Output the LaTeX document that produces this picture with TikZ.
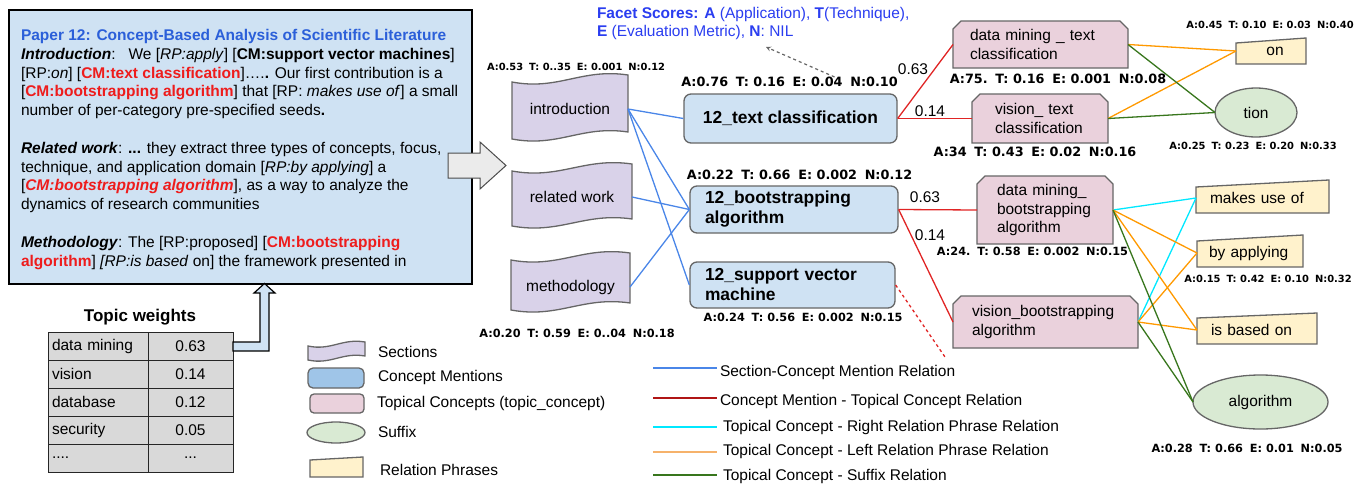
\documentclass[tikz,border=0pt]{standalone}
\usepackage{fontspec}
\setmainfont{Liberation Sans}
\newfontfamily\lblfont{DejaVu Sans}
\usetikzlibrary{shapes.geometric}
\definecolor{paperfill}{HTML}{CFE2F3}
\definecolor{cmfill}{HTML}{CFE2F3}
\definecolor{cmleg}{HTML}{9FC5E8}
\definecolor{secfill}{HTML}{D9D2E9}
\definecolor{tcfill}{HTML}{EAD1DC}
\definecolor{sufill}{HTML}{D9EAD3}
\definecolor{rpfill}{HTML}{FFF2CC}
\definecolor{cellfill}{HTML}{D9D9D9}
\definecolor{edgeblue}{HTML}{4A86E8}
\definecolor{edgered}{HTML}{E02424}
\definecolor{legred}{HTML}{B01515}
\definecolor{edgecyan}{HTML}{00E8FF}
\definecolor{edgeorange}{HTML}{FF9900}
\definecolor{legorange}{HTML}{F6B26B}
\definecolor{edgegreen}{HTML}{38761D}
\definecolor{shapeborder}{HTML}{666666}
\definecolor{titleblue}{HTML}{2B5FD9}
\definecolor{facetblue}{HTML}{2A3DF0}
\definecolor{pred}{HTML}{EE1C1C}
\definecolor{arrowfill}{HTML}{EBEBEB}
\newcommand\lgp{\hspace{0.6em}}
% wavy section shape: x0 x1 top bottom amplitude
\newcommand\secshape[5]{%
  \draw[secdraw] (#1,#3+#5) .. controls ({#1+0.4*(#2-#1)},{#3+2.25*#5}) and ({#1+0.6*(#2-#1)},{#3-#5}) .. (#2,#3)
    -- (#2,#4) .. controls ({#1+0.6*(#2-#1)},{#4-#5}) and ({#1+0.4*(#2-#1)},{#4+2.25*#5}) .. (#1,#4+#5) -- cycle;}
% topical concept shape: x0 y0 x1 y1
\newcommand\tcshape[4]{%
  \draw[tcdraw] (#1,#4) -- (#1,#2+8) -- (#1+8,#2) -- (#3-8,#2) -- (#3,#2+8) -- (#3,#4) -- cycle;}
% relation phrase shape: x0 yleft x1 yright ybottom
\newcommand\rpshape[5]{%
  \draw[rpdraw] (#1,#5) -- (#1,#2) -- (#3,#4) -- (#3,#5) -- cycle;}
\begin{document}
\begin{tikzpicture}[x=1pt,y=-1pt,
  txt/.style={font=\fontsize{15.5}{18.8}\selectfont, inner sep=0pt, outer sep=0pt},
  lblL/.style={font=\lblfont\bfseries\fontsize{12.8}{15}\selectfont, inner sep=0pt},
  lblM/.style={font=\lblfont\bfseries\fontsize{11.3}{14}\selectfont, inner sep=0pt},
  lblS/.style={font=\lblfont\bfseries\fontsize{9.9}{12}\selectfont, inner sep=0pt},
  cmnode/.style={draw=shapeborder, line width=1.3pt, fill=cmfill, rounded corners=7pt, inner sep=0pt, font=\bfseries\fontsize{17.4}{20}\selectfont},
  secdraw/.style={draw=shapeborder, line width=1.3pt, fill=secfill},
  tcdraw/.style={draw=shapeborder, line width=1.3pt, fill=tcfill},
  rpdraw/.style={draw=shapeborder, line width=1.3pt, fill=rpfill},
  tcnode/.style={txt, align=left},
  suffix/.style={ellipse, draw=shapeborder, line width=1.3pt, fill=sufill, txt},
  cell/.style={draw=black!85, line width=1pt, fill=cellfill, minimum height=28pt, txt},
  cellA/.style={cell, text width=92pt, align=left, minimum width=100pt},
  cellB/.style={cell, minimum width=85pt},
  eblue/.style={edgeblue, line width=1.3pt},
  ered/.style={edgered, line width=1.3pt},
  ecyan/.style={edgecyan, line width=1.3pt},
  eorange/.style={edgeorange, line width=1.3pt},
  egreen/.style={edgegreen, line width=1.3pt},
]
\useasboundingbox (0,0) rectangle (1368,485);

% ---------------- paper box ----------------
\node[draw=black, line width=1.8pt, fill=paperfill, minimum width=463pt, minimum height=274pt, inner sep=0pt] (paper) at (240.5,147) {};
\node[txt, anchor=north west, align=left] (ptext) at (21,29.2) {%
{\color{titleblue}\bfseries Paper 12: Concept-Based Analysis of Scientific Literature}\\
\textbf{\textit{Introduction}}:\ \ \ We [\textit{RP:apply}] [\textbf{CM:support vector machines}]\\
{[}RP:\textit{on}] [\textcolor{pred}{\textbf{CM:text classification}}]….\textbf{.} Our first contribution is a\\
{[}\textcolor{pred}{\textbf{CM:bootstrapping algorithm}}] that [RP: \textit{makes use of}] a small\\
number of per-category pre-specified seeds\textbf{.}\\[18.8pt]
\textbf{\textit{Related work}}: \textbf{...} they extract three types of concepts, focus,\\
technique, and application domain [\textit{RP:by applying}] a\\
{[}\textcolor{pred}{\textbf{\textit{CM:bootstrapping algorithm}}}], as a way to analyze the\\
dynamics of research communities\\[18.8pt]
\textbf{\textit{Methodology}}: The [RP:proposed] [\textcolor{pred}{\textbf{CM:bootstrapping}}\\
\textcolor{pred}{\textbf{algorithm}}] \textit{[RP:is based} on] the framework presented in};

% big gray arrow
\draw[draw=black!70, line width=1pt, fill=arrowfill] (448,153) -- (480,153) -- (480,142) -- (506,165.5) -- (480,189) -- (480,178) -- (448,178) -- cycle;

% ---------------- topic weights ----------------
\node[font=\bfseries\fontsize{17}{20}\selectfont, inner sep=0pt] (twtitle) at (140,317) {Topic weights};
\node[cellA] (ta1) at (98,346) {data mining};
\node[cellB] (tb1) at (190.5,346) {0.63};
\node[cellA] (ta2) at (98,374) {vision};
\node[cellB] (tb2) at (190.5,374) {0.14};
\node[cellA] (ta3) at (98,402) {database};
\node[cellB] (tb3) at (190.5,402) {0.12};
\node[cellA] (ta4) at (98,430) {security};
\node[cellB] (tb4) at (190.5,430) {0.05};
\node[cellA] (ta5) at (98,458) {....};
\node[cellB] (tb5) at (190.5,458) {...};
% hollow arrow from table up to the paper
\draw[draw=black, line width=1.2pt, fill=paperfill] (233,342) -- (260,342) -- (260,293) -- (254,293) -- (264.5,283.5) -- (275,293) -- (269,293) -- (269,351) -- (233,351) -- cycle;

% ---------------- sections ----------------
\secshape{512}{628}{75}{132}{7}
\node[txt, minimum width=116pt, minimum height=57pt] (intro) at (570,109) {introduction};
\secshape{512}{632}{164}{219}{7}
\node[txt, minimum width=120pt, minimum height=55pt] (related) at (572,197) {related work};
\secshape{511}{630}{253}{303}{7}
\node[txt, minimum width=119pt, minimum height=50pt] (method) at (570.5,287) {methodology};
\node[lblS] (lintro) at (576,67) {A:0.53\lgp T: 0..35\lgp E: 0.001\lgp N:0.12};
\node[lblM] (lmethod) at (577,333) {A:0.20\lgp T: 0.59\lgp E: 0..04\lgp N:0.18};

% ---------------- concept mentions ----------------
\node[cmnode, minimum width=213pt, minimum height=49pt] (ctext) at (790.5,118.5) {12\_text classification};
\node[cmnode, minimum width=208pt, minimum height=47pt, text width=178pt, align=left] (cboot) at (794,209.5) {12\_bootstrapping\\algorithm};
\node[cmnode, minimum width=205pt, minimum height=46pt, text width=175pt, align=left] (csvm) at (792.5,285) {12\_support vector\\machine};
\node[lblL] (lctext) at (789.5,82) {A:0.76\lgp T: 0.16\lgp E: 0.04\lgp N:0.10};
\node[lblL] (lcboot) at (799.5,175) {A:0.22\lgp T: 0.66\lgp E: 0.002\lgp N:0.12};
\node[lblM] (lcsvm) at (803,317) {A:0.24\lgp T: 0.56\lgp E: 0.002\lgp N:0.15};

% facet scores
\node[txt, anchor=north west, align=left, text=facetblue, font=\fontsize{15.5}{18.4}\selectfont] (facet) at (597,7) {\textbf{Facet Scores: A} (Application), \textbf{T}(Technique),\\\textbf{E} (Evaluation Metric), \textbf{N}: NIL};
\coordinate (fend) at (766,47);
\draw[black!60, line width=1.2pt, dashed, -stealth] ([xshift=45pt]lctext.north) -- (fend);

% ---------------- topical concepts ----------------
\tcshape{953}{21}{1128}{68}
\node[tcnode, minimum width=175pt, minimum height=47pt, text width=141pt] (dmtext) at (1040.5,44.5) {data mining \_ text\\classification};
\tcshape{972}{94}{1108}{143}
\node[tcnode, minimum width=136pt, minimum height=49pt, text width=90pt] (vtext) at (1040,118.5) {vision\_ text\\classification};
\tcshape{977}{176}{1113}{244}
\node[tcnode, minimum width=136pt, minimum height=68pt, text width=96pt] (dmboot) at (1045,210) {data mining\_\\bootstrapping\\algorithm};
\tcshape{953}{296}{1138}{348}
\node[tcnode, minimum width=185pt, minimum height=52pt, text width=147pt] (vboot) at (1045.5,322) {vision\_bootstrapping\\algorithm};
\node[lblL] (ldmtext) at (1058,79) {A:75.\lgp T: 0.16\lgp E: 0.001\lgp N:0.08};
\node[lblL] (lvtext) at (1035,152) {A:34\lgp T: 0.43\lgp E: 0.02\lgp N:0.16};
\node[lblM] (ldmboot) at (1032.5,251) {A:24.\lgp T: 0.58\lgp E: 0.002\lgp N:0.15};

% ---------------- relation phrases ----------------
\rpshape{1236}{43}{1306}{38}{64}
\node[txt, minimum width=70pt, minimum height=24pt] (on) at (1271,51) {\hspace{8pt}on};
\rpshape{1196}{187}{1329}{180}{213}
\node[txt, align=left, minimum width=133pt, minimum height=28pt, text width=105pt] (mkuse) at (1262.5,198) {makes use of};
\rpshape{1197}{241}{1303}{235}{267}
\node[txt, align=left, minimum width=106pt, minimum height=28pt, text width=82pt] (byapp) at (1250,253) {by applying};
\rpshape{1197}{318}{1317}{313}{344}
\node[txt, align=left, minimum width=120pt, minimum height=28pt, text width=92pt] (isbased) at (1257,330) {is based on};
\node[lblS] (lon) at (1270,25) {A:0.45\lgp T: 0.10\lgp E: 0.03\lgp N:0.40};
\node[lblS] (lbyapp) at (1268,279) {A:0.15\lgp T: 0.42\lgp E: 0.10\lgp N:0.32};

% ---------------- suffixes ----------------
\node[suffix, minimum width=82pt, minimum height=49pt] (tion) at (1256,112.5) {tion};
\node[suffix, minimum width=135pt, minimum height=54pt] (algo) at (1260.5,402) {algorithm};
\node[lblS] (ltion) at (1253,146) {A:0.25\lgp T: 0.23\lgp E: 0.20\lgp N:0.33};
\node[lblM] (lalgo) at (1247,448) {A:0.28\lgp T: 0.66\lgp E: 0.01\lgp N:0.05};

% ---------------- edges ----------------
\draw[eblue] (intro.east) -- (ctext.west);
\draw[eblue] (intro.east) -- (cboot.west);
\draw[eblue] (intro.east) -- (csvm.west);
\draw[eblue] (related.east) -- (cboot.west);
\draw[eblue] (method.east) -- (cboot.west);

\draw[ered] (ctext.east) -- (dmtext.west);
\draw[ered] (ctext.east) -- (vtext.west);
\draw[ered] (cboot.east) -- (dmboot.west);
\draw[ered] (cboot.east) -- (vboot.west);
\node[txt] (w1) at (913,69) {0.63};
\node[txt] (w2) at (930,111) {0.14};
\node[txt] (w3) at (925,197.5) {0.63};
\node[txt] (w4) at (930,235) {0.14};
\coordinate (rdend) at (945,357);
\draw[ered, dashed] (csvm.east) -- (rdend);

\draw[eorange] (dmtext.east) -- (on.west);
\draw[eorange] (vtext.east) -- (on.west);
\draw[egreen] (dmtext.east) -- (tion.west);
\draw[egreen] (vtext.east) -- (tion.west);

\draw[ecyan] (dmboot.east) -- (mkuse.west);
\draw[ecyan] (vboot.east) -- (mkuse.west);
\draw[eorange] (dmboot.east) -- (byapp.west);
\draw[eorange] (dmboot.east) -- (isbased.west);
\draw[eorange] (vboot.east) -- (byapp.west);
\draw[eorange] (vboot.east) -- (isbased.west);
\draw[egreen] (dmboot.east) -- (algo.west);
\draw[egreen] (vboot.east) -- (algo.west);

% ---------------- legend ----------------
\secshape{308}{365}{342}{356}{4}
\draw[draw=shapeborder, line width=1.3pt, fill=cmleg, rounded corners=5pt] (308,368) rectangle (364,388);
\draw[draw=shapeborder, line width=1.3pt, fill=tcfill, rounded corners=4pt] (310,394) rectangle (364,413);
\draw[draw=shapeborder, line width=1.3pt, fill=sufill] (336,432.5) ellipse (29 and 10.5);
\rpshape{310}{460}{363}{457}{477}
\node[txt, anchor=base west] (lg1) at (378,357.7) {Sections};
\node[txt, anchor=base west] (lg2) at (378,381) {Concept Mentions};
\node[txt, anchor=base west] (lg3) at (377,407.3) {Topical Concepts (topic\_concept)};
\node[txt, anchor=base west] (lg4) at (378,437.3) {Suffix};
\node[txt, anchor=base west] (lg5) at (380,475) {Relation Phrases};

\draw[eblue] (653,368) -- (717,368);
\draw[legred, line width=1.3pt] (653,398) -- (717,398);
\draw[ecyan] (653,427) -- (717,427);
\draw[legorange, line width=1.3pt] (653,452) -- (717,452);
\draw[egreen] (653,475) -- (717,475);
\node[txt, anchor=base west] (lr1) at (720,376.7) {Section-Concept Mention Relation};
\node[txt, anchor=base west] (lr2) at (720,405.7) {Concept Mention - Topical Concept Relation};
\node[txt, anchor=base west] (lr3) at (723,431) {Topical Concept - Right Relation Phrase Relation};
\node[txt, anchor=base west] (lr4) at (723,455) {Topical Concept - Left Relation Phrase Relation};
\node[txt, anchor=base west] (lr5) at (723,480) {Topical Concept - Suffix Relation};
\end{tikzpicture}
\end{document}
